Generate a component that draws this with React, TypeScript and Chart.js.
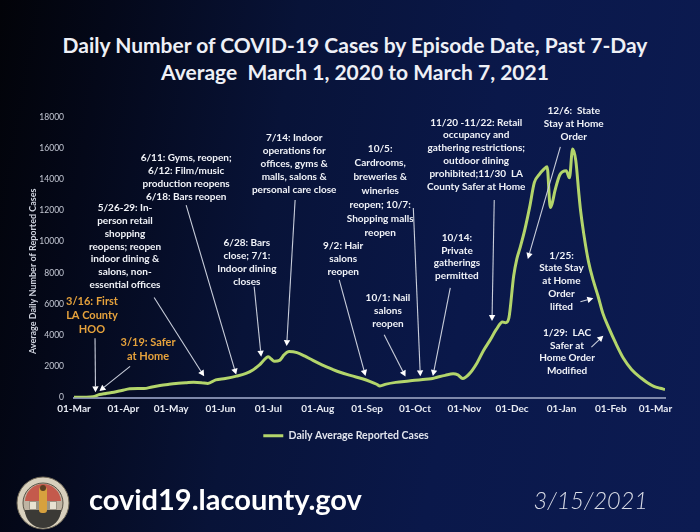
import React, { useEffect, useRef } from "react";
import { Chart, registerables } from "chart.js";

Chart.register(...registerables);

// ---------- text ----------
const TITLE_LINES = [
  "Daily Number of COVID-19 Cases by Episode Date, Past 7-Day",
  "Average  March 1, 2020 to March 7, 2021",
];
const Y_AXIS_TITLE = "Average Daily Number of Reported Cases";
const SERIES_LABEL = "Daily Average Reported Cases";
const FOOTER_URL = "covid19.lacounty.gov";
const FOOTER_DATE = "3/15/2021";

// ---------- data ----------
const START_DATE = "2020-03-01";
const END_DATE = "2021-03-07";

const caseDates = [
  "2020-03-01", "2020-03-08", "2020-03-13", "2020-03-17", "2020-03-21", "2020-03-26", "2020-03-31",
  "2020-04-05", "2020-04-10", "2020-04-14", "2020-04-19", "2020-04-24", "2020-04-29",
  "2020-05-04", "2020-05-10", "2020-05-15", "2020-05-20", "2020-05-24", "2020-05-29",
  "2020-06-04", "2020-06-11", "2020-06-17", "2020-06-21", "2020-06-26",
  "2020-07-01", "2020-07-03", "2020-07-05", "2020-07-08", "2020-07-11", "2020-07-14", "2020-07-19", "2020-07-24", "2020-07-29",
  "2020-08-04", "2020-08-10", "2020-08-15", "2020-08-22", "2020-08-29",
  "2020-09-03", "2020-09-07", "2020-09-09", "2020-09-13", "2020-09-19", "2020-09-26",
  "2020-10-01", "2020-10-06", "2020-10-11", "2020-10-15", "2020-10-20", "2020-10-25", "2020-10-28", "2020-10-31",
  "2020-11-04", "2020-11-09", "2020-11-13", "2020-11-17", "2020-11-21", "2020-11-25", "2020-11-27", "2020-11-29",
  "2020-12-02", "2020-12-04", "2020-12-06", "2020-12-09", "2020-12-12", "2020-12-15", "2020-12-18", "2020-12-21",
  "2020-12-23", "2020-12-25", "2020-12-26", "2020-12-28", "2020-12-31",
  "2021-01-04", "2021-01-06", "2021-01-08", "2021-01-10", "2021-01-12", "2021-01-13", "2021-01-15", "2021-01-18",
  "2021-01-21", "2021-01-24", "2021-01-27", "2021-01-31",
  "2021-02-04", "2021-02-09", "2021-02-14", "2021-02-20", "2021-02-24", "2021-02-28",
  "2021-03-04", "2021-03-07",
];
const caseValues = [
  10, 15, 50, 190, 260, 340, 450,
  560, 580, 570, 680, 770, 840,
  900, 940, 980, 950, 900, 1130,
  1220, 1370, 1550, 1750, 2150,
  2620, 2450, 2320, 2380, 2750, 2950, 2880, 2650, 2380,
  2080, 1820, 1620, 1400, 1200,
  1020, 850, 740, 860, 970, 1050,
  1100, 1150, 1200, 1300, 1420, 1520, 1450, 1220,
  1500, 2220, 3000, 3650, 4350, 4850, 4800, 5100,
  7800, 8900, 9600, 10770, 12200, 13800, 14300, 14650,
  14800, 12200, 12400, 13300, 14300,
  14550, 14100, 15950, 15200, 13000, 12000, 10500, 8700,
  7500, 6500, 5400, 4400,
  3500, 2500, 1800, 1250, 950, 720,
  590, 510,
];

const monthTickDates = [
  "2020-03-01", "2020-04-01", "2020-05-01", "2020-06-01", "2020-07-01", "2020-08-01", "2020-09-01",
  "2020-10-01", "2020-11-01", "2020-12-01", "2021-01-01", "2021-02-01", "2021-03-01",
];
const monthTickLabels = [
  "01-Mar", "01-Apr", "01-May", "01-Jun", "01-Jul", "01-Aug", "01-Sep",
  "01-Oct", "01-Nov", "01-Dec", "01-Jan", "01-Feb", "01-Mar",
];
const Y_MAX = 18000;
const Y_STEP = 2000;

// ---------- annotations (text) ----------
const annotationTexts = [
  ["3/16: First", "LA County", "HOO"],
  ["3/19: Safer", "at Home"],
  ["5/26-29: In-", "person retail", "shopping", "reopens; reopen", "indoor dining &", "salons, non-", "essential offices"],
  ["6/11: Gyms, reopen;", "6/12: Film/music", "production reopens", "6/18: Bars reopen"],
  ["6/28: Bars", "close; 7/1:", "Indoor dining", "closes"],
  ["7/14: Indoor", "operations for", "offices, gyms &", "malls, salons &", "personal care close"],
  ["10/5:", "Cardrooms,", "breweries &", "wineries", "reopen; 10/7:", "Shopping malls", "reopen"],
  ["9/2: Hair", "salons", "reopen"],
  ["10/1: Nail", "salons", "reopen"],
  ["11/20 -11/22: Retail", "occupancy and", "gathering restrictions;", "outdoor dining", "prohibited;11/30  LA", "County Safer at Home"],
  ["10/14:", "Private", "gatherings", "permitted"],
  ["12/6:  State", "Stay at Home", "Order"],
  ["1/25:", "State Stay", "at Home", "Order", "lifted"],
  ["1/29:  LAC", "Safer at", "Home Order", "Modified"],
];
// placement in data coordinates: [day since start, cases]
const annotationTextAt = [
  [11.3, 6160], [46.5, 3540], [32, 12160], [70.4, 15380], [108.5, 9920], [138.2, 16640], [192.2, 15930],
  [169, 9750], [197.1, 6400], [252.5, 17660], [240.4, 10260], [313.7, 18380], [306, 9110], [309.5, 4140],
];
const annotationArrowFrom = [
  [13.2, 3800], [35.2, 2000], [50.3, 6420], [70.4, 12350], [113.1, 7120], [138.8, 12670], [213, 12160],
  [166.5, 7550], [194.7, 4030], [263.8, 12670], [236.2, 7040], [305.3, 16080], [317.9, 6140], [324.8, 3230],
];
const annotationArrowTo = [
  [13.5, 330], [16, 420], [81.7, 1360], [101.8, 1470], [117.5, 2620], [133.5, 3300], [217.4, 1360],
  [183, 1380], [208.1, 1340], [262.4, 4910], [225.3, 1380], [284.9, 8890], [326, 6370], [332.3, 3970],
];
const annotationHighlighted = [true, true, false, false, false, false, false, false, false, false, false, false, false, false];
const annotationLineHeight = [14, 14, 12.8, 13, 12.9, 13, 13.9, 13, 13, 12.8, 12.8, 13, 12.7, 12.6];

// ---------- styles ----------
const LINE_COLOR = "#b3d56b";
const TEXT_WHITE = "#f1f3f8";
const TEXT_ORANGE = "#e6a23c";
const ARROW_COLOR = "#c9cedb";
const FONT = "Lato, 'Open Sans', sans-serif";

const DAY_MS = 86400000;
const dayOf = (s: string) => {
  const [a, b, c] = s.split("-").map(Number);
  const [a0, b0, c0] = START_DATE.split("-").map(Number);
  return Math.round((Date.UTC(a, b - 1, c) - Date.UTC(a0, b0 - 1, c0)) / DAY_MS);
};

const annotationPlugin = {
  id: "eventAnnotations",
  afterDatasetsDraw(chart: any) {
    const { ctx, scales, chartArea } = chart;
    const xs = scales.x;
    const ys = scales.y;
    ctx.save();
    // y-axis title
    ctx.translate(chartArea.left - 41, ys.getPixelForValue(8100));
    ctx.rotate(-Math.PI / 2);
    ctx.fillStyle = "#cfd3de";
    ctx.font = `bold 9px ${FONT}`;
    ctx.textAlign = "center";
    ctx.textBaseline = "middle";
    ctx.fillText(Y_AXIS_TITLE, 0, 0);
    ctx.restore();

    annotationTexts.forEach((lines, i) => {
      const hl = annotationHighlighted[i];
      const cx = xs.getPixelForValue(annotationTextAt[i][0]);
      const cy = ys.getPixelForValue(annotationTextAt[i][1]);
      ctx.save();
      ctx.font = hl ? `bold 11px ${FONT}` : `bold 10px ${FONT}`;
      ctx.fillStyle = hl ? TEXT_ORANGE : TEXT_WHITE;
      ctx.textAlign = "center";
      ctx.textBaseline = "middle";
      lines.forEach((ln, k) => ctx.fillText(ln, cx, cy + k * annotationLineHeight[i]));

      const x1 = xs.getPixelForValue(annotationArrowFrom[i][0]);
      const y1 = ys.getPixelForValue(annotationArrowFrom[i][1]);
      const x2 = xs.getPixelForValue(annotationArrowTo[i][0]);
      const y2 = ys.getPixelForValue(annotationArrowTo[i][1]);
      const ang = Math.atan2(y2 - y1, x2 - x1);
      const headL = 6;
      const headW = 3.2;
      const bx = x2 - headL * Math.cos(ang);
      const by = y2 - headL * Math.sin(ang);
      ctx.strokeStyle = ARROW_COLOR;
      ctx.lineWidth = 1.1;
      ctx.beginPath();
      ctx.moveTo(x1, y1);
      ctx.lineTo(bx, by);
      ctx.stroke();
      ctx.fillStyle = "#ffffff";
      ctx.beginPath();
      ctx.moveTo(x2, y2);
      ctx.lineTo(bx + headW * Math.sin(ang), by - headW * Math.cos(ang));
      ctx.lineTo(bx - headW * Math.sin(ang), by + headW * Math.cos(ang));
      ctx.closePath();
      ctx.fill();
      ctx.restore();
    });
  },
};

function Seal() {
  return (
    <svg width="54" height="54" viewBox="0 0 54 54" style={{ position: "absolute", left: 16, top: 476 }}>
      <circle cx="27" cy="27" r="26" fill="#d8d0bd" stroke="#6f6857" strokeWidth="1" />
      <circle cx="27" cy="27" r="20" fill="#bfb4a2" stroke="#5a5448" strokeWidth="1" />
      <path d="M9 25 A18 18 0 0 1 27 8 L27 25 Z" fill="#c45a4c" />
      <path d="M45 25 A18 18 0 0 0 27 8 L27 25 Z" fill="#c45a4c" />
      <rect x="13" y="25" width="28" height="9" fill="#9c9484" />
      <path d="M9 34 A18 18 0 0 0 45 34 Z" fill="#3b3a36" />
      <rect x="23" y="11" width="8" height="26" rx="3" fill="#d7a13e" />
      <circle cx="27" cy="12" r="3" fill="#5b3d22" />
      <rect x="14" y="26" width="6" height="7" fill="#e8e2d2" />
      <rect x="34" y="26" width="6" height="7" fill="#e8e2d2" />
    </svg>
  );
}

export default function App() {
  const canvasRef = useRef<HTMLCanvasElement | null>(null);

  useEffect(() => {
    if (!canvasRef.current) return;
    const points = caseDates.map((d, i) => ({ x: dayOf(d), y: caseValues[i] }));
    const monthDays = monthTickDates.map(dayOf);
    const chart = new Chart(canvasRef.current, {
      type: "line",
      data: {
        datasets: [
          {
            label: SERIES_LABEL,
            data: points,
            borderColor: LINE_COLOR,
            backgroundColor: LINE_COLOR,
            borderWidth: 3,
            pointRadius: 0,
            cubicInterpolationMode: "monotone",
            fill: false,
          },
        ],
      },
      options: {
        animation: false,
        responsive: false,
        events: [],
        layout: { padding: { top: 117, right: 8, bottom: 81, left: 0 } },
        scales: {
          x: {
            type: "linear",
            min: 0,
            max: dayOf(END_DATE),
            grid: { display: false, drawTicks: false },
            border: { display: true, color: "#7e88aa", width: 2 },
            afterBuildTicks: (scale: any) => {
              scale.ticks = monthDays.map((v) => ({ value: v }));
            },
            ticks: {
              autoSkip: false,
              maxRotation: 0,
              minRotation: 0,
              padding: 5,
              color: "#e8ebf3",
              font: { family: FONT, size: 10, weight: "bold" },
              callback: (_v: any, idx: number) => monthTickLabels[idx],
            },
            afterFit: (scale: any) => {
              scale.height = 23;
            },
          },
          y: {
            min: 0,
            max: Y_MAX,
            grid: { display: false, drawTicks: false },
            border: { display: false },
            ticks: {
              stepSize: Y_STEP,
              padding: 10,
              color: "#c4c8d4",
              font: { family: FONT, size: 8.5 },
              callback: (v: any) => String(v),
            },
            afterFit: (scale: any) => {
              scale.width = 74;
            },
          },
          yRight: {
            type: "linear",
            position: "right",
            display: true,
            grid: { display: false, drawTicks: false },
            border: { display: false },
            ticks: { display: false },
            afterFit: (scale: any) => {
              scale.width = 27;
            },
          },
        },
        plugins: {
          legend: {
            display: true,
            position: "bottom",
            labels: {
              boxWidth: 20,
              boxHeight: 3,
              padding: 10,
              color: "#e2e5ee",
              font: { family: FONT, size: 10.5, weight: "bold" },
              generateLabels: () => [
                {
                  text: SERIES_LABEL,
                  fillStyle: LINE_COLOR,
                  strokeStyle: LINE_COLOR,
                  lineWidth: 0,
                  hidden: false,
                  datasetIndex: 0,
                  fontColor: "#e2e5ee",
                },
              ],
            },
          },
          title: { display: false },
          tooltip: { enabled: false },
        },
      },
      plugins: [annotationPlugin],
    } as any);
    return () => chart.destroy();
  }, []);

  return (
    <div
      style={{
        position: "fixed",
        left: 0,
        top: 0,
        width: 700,
        height: 532,
        overflow: "hidden",
        background:
          "linear-gradient(100deg, #020308 0%, #040819 14%, #081338 38%, #0a184a 65%, #0c1b52 100%)",
        fontFamily: FONT,
      }}
    >
      <div
        style={{
          position: "absolute",
          top: 31,
          left: 5,
          width: 700,
          textAlign: "center",
          color: "#eef0f6",
          fontWeight: 700,
          fontSize: 21,
          lineHeight: "27px",
        }}
      >
        {TITLE_LINES.map((t, i) => (
          <div key={i} style={{ whiteSpace: "pre" }}>
            {t}
          </div>
        ))}
      </div>
      <canvas ref={canvasRef} width={700} height={532} style={{ position: "absolute", left: 0, top: 0 }} />
      <Seal />
      <div
        style={{
          position: "absolute",
          left: 89,
          top: 482,
          color: "#ffffff",
          fontWeight: 700,
          fontSize: 29,
          lineHeight: "34px",
        }}
      >
        {FOOTER_URL}
      </div>
      <div
        style={{
          position: "absolute",
          right: 52,
          top: 485,
          color: "#d9dce6",
          fontStyle: "italic",
          fontWeight: 300,
          fontSize: 23.5,
          lineHeight: "30px",
        }}
      >
        {FOOTER_DATE}
      </div>
    </div>
  );
}
